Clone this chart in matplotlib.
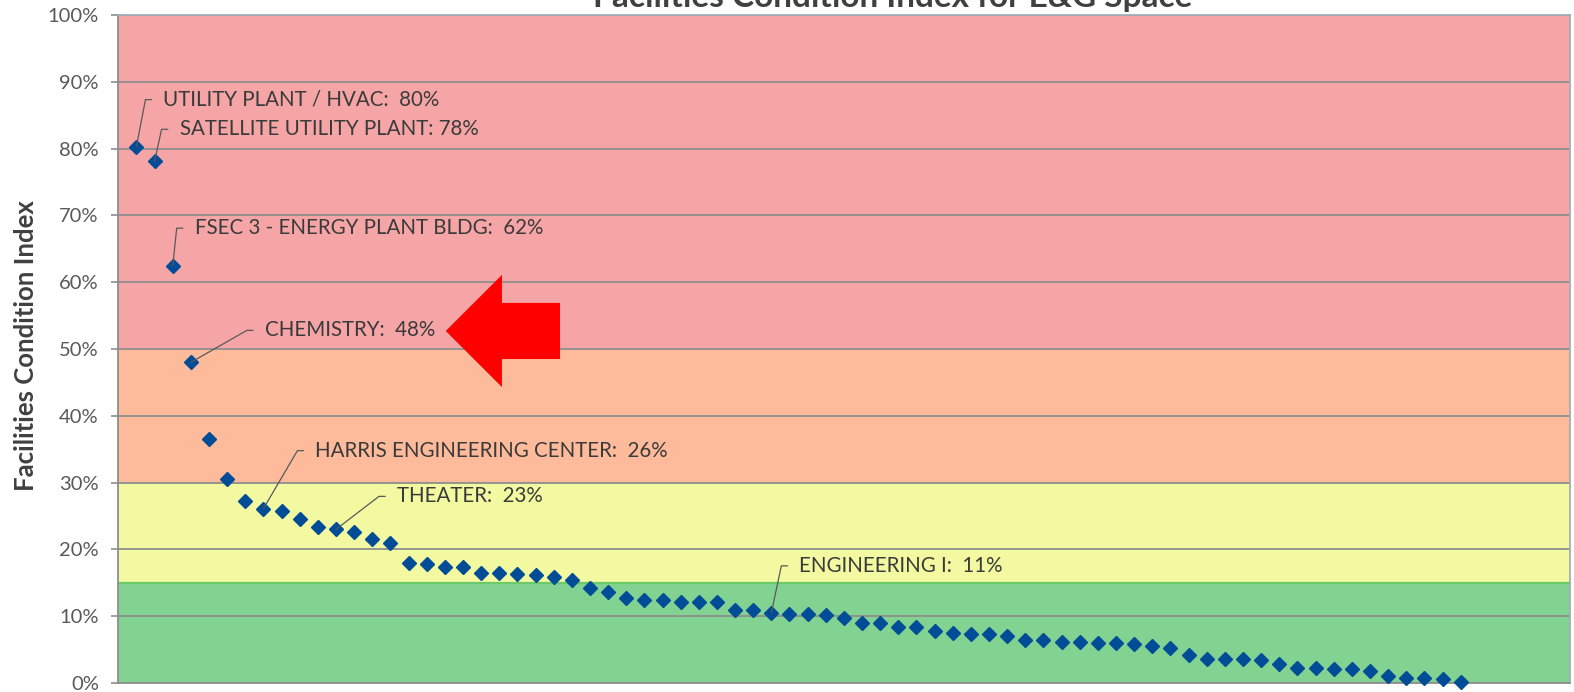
import matplotlib
matplotlib.use('Agg')
import matplotlib.pyplot as plt
import numpy as np
from matplotlib.patches import FancyArrow

# facilities condition index (%) per building, sorted high to low
fci = [80.3, 78.1, 62.4, 48.0, 36.5, 30.6, 27.3, 26.1, 25.7, 24.6,
       23.4, 23.0, 22.6, 21.6, 21.0, 18.0, 17.8, 17.3, 17.3, 16.4,
       16.4, 16.3, 16.2, 15.9, 15.4, 14.2, 13.6, 12.7, 12.4, 12.4,
       12.2, 12.2, 12.2, 11.0, 11.0, 10.5, 10.4, 10.4, 10.2, 9.8,
       9.0, 9.0, 8.4, 8.4, 7.8, 7.5, 7.3, 7.3, 7.0, 6.4,
       6.4, 6.2, 6.2, 6.0, 6.0, 5.8, 5.5, 5.2, 4.2, 3.6,
       3.6, 3.6, 3.4, 2.8, 2.3, 2.2, 2.1, 2.1, 1.8, 1.1,
       0.7, 0.7, 0.6, 0.2]

# condition bands
band_lo = [0, 15, 30, 50]
band_hi = [15, 30, 50, 100]
band_colors = ['#82d291', '#f3f9a1', '#fdbb9b', '#f6a5a7']

# callouts: building index, label, leader elbow offset (px)
callout_idx = [0, 1, 2, 3, 7, 11, 35]
callout_text = ['UTILITY PLANT / HVAC:  80%',
                'SATELLITE UTILITY PLANT: 78%',
                'FSEC 3 - ENERGY PLANT BLDG:  62%',
                'CHEMISTRY:  48%',
                'HARRIS ENGINEERING CENTER:  26%',
                'THEATER:  23%',
                'ENGINEERING I:  11%']
callout_dx = [9, 7, 4, 56, 34, 43, 10]
callout_dy = [47, 32, 38, 32, 58, 33, 47]

plt.rcParams['font.family'] = ['Lato', 'DejaVu Sans']

W, H = 1574, 692
fig = plt.figure(figsize=(W / 100, H / 100), dpi=100)
ax = fig.add_axes([118.3 / W, (H - 683) / H, (1569.5 - 118.3) / W, (683 - 15) / H])

for lo, hi, c in zip(band_lo, band_hi, band_colors):
    ax.axhspan(lo, hi, color=c, lw=0, zorder=0.1)
ax.axhline(15, color='#6cc96a', lw=1.6, zorder=0.6)

ax.set_axisbelow(True)
ax.yaxis.grid(True, color='#8e8e8e', lw=1.3)

x = np.arange(1, len(fci) + 1)
ax.plot(x, fci, 'D', ms=7.6, color='#004c97', mec='#004c97', zorder=3, clip_on=False)

ax.set_xlim(0, 80)
ax.set_ylim(0, 100)
ax.set_xticks([])
ax.set_yticks(range(0, 101, 10))
ax.set_yticklabels([f'{v}%' for v in range(0, 101, 10)])
ax.tick_params(axis='y', length=5, width=1.2, color='#8e8e8e', labelsize=14.5,
               labelcolor='#595959', pad=9)
for side in ['left', 'bottom']:
    ax.spines[side].set_color('#8e8e8e')
    ax.spines[side].set_linewidth(1.3)
for side in ['top', 'right']:
    ax.spines[side].set_color('#a4acb6')
    ax.spines[side].set_linewidth(1.3)

ax.set_ylabel('Facilities Condition Index', fontsize=18.5, fontweight='bold', color='#404040')
ax.yaxis.set_label_coords(-0.055, 0.505)

# leader-line callouts
arm, gap = 9, 9
for i, txt, dx, dy in zip(callout_idx, callout_text, callout_dx, callout_dy):
    ang = np.degrees(np.arctan2(dy, dx))
    ax.annotate(txt, xy=(i + 1, fci[i]), xytext=(dx + arm + gap, dy),
                textcoords='offset pixels', ha='left', va='center',
                fontsize=14.8, color='#3a3a3a', zorder=4,
                arrowprops=dict(arrowstyle='-', color='#595959', lw=0.9,
                                shrinkA=gap * 0.72, shrinkB=0, relpos=(0, 0.5),
                                connectionstyle=f'angle,angleA=0,angleB={ang},rad=0'))

# red block arrow pointing at chemistry
ax.add_patch(FancyArrow(24.35, 52.7, -6.3, 0, width=8.4, head_width=16.8,
                        head_length=3.1, length_includes_head=True,
                        color='#ff0000', lw=0, zorder=4))

fig.text(893 / W, (H - 7) / H, 'Facilities Condition Index for E&G Space',
         ha='center', va='baseline', fontsize=24, fontweight='bold', color='#404040')

fig.savefig('out.png', dpi=100)
